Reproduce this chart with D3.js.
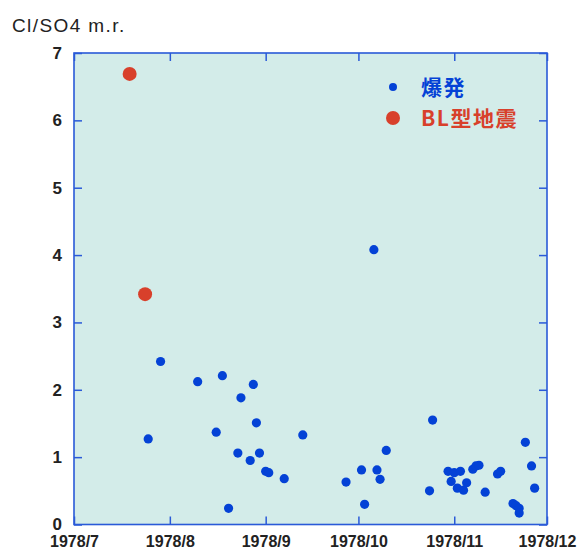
<!DOCTYPE html>
<html>
<head>
<meta charset="utf-8">
<script src="https://cdn.jsdelivr.net/npm/d3@7"></script>
<style>
  body { margin: 0; background: #fff; }
  svg { display: block; }
</style>
</head>
<body>
<div id="container"></div>
<script>
// eruption samples (爆発)
const blastDates = [
    '1978-07-25', '1978-07-29', '1978-08-10', '1978-08-16', '1978-08-18',
    '1978-08-20', '1978-08-23', '1978-08-24', '1978-08-27', '1978-08-28',
    '1978-08-29', '1978-08-30', '1978-09-01', '1978-09-02', '1978-09-07',
    '1978-09-13', '1978-09-27', '1978-10-02', '1978-10-03', '1978-10-06',
    '1978-10-07', '1978-10-08', '1978-10-10', '1978-10-24', '1978-10-25',
    '1978-10-30', '1978-10-31', '1978-11-01', '1978-11-02', '1978-11-03',
    '1978-11-04', '1978-11-05', '1978-11-07', '1978-11-08', '1978-11-09',
    '1978-11-11', '1978-11-15', '1978-11-16', '1978-11-20', '1978-11-21',
    '1978-11-22', '1978-11-22', '1978-11-24', '1978-11-26', '1978-11-27'
];
const blastValues = [
    1.27, 2.42, 2.12, 1.37, 2.21,
    0.24, 1.06, 1.88, 0.95, 2.08,
    1.51, 1.06, 0.79, 0.77, 0.68,
    1.33, 0.63, 0.81, 0.30, 4.08,
    0.81, 0.67, 1.10, 0.50, 1.55,
    0.79, 0.64, 0.77, 0.54, 0.79,
    0.51, 0.62, 0.82, 0.87, 0.88,
    0.48, 0.75, 0.79, 0.31, 0.28,
    0.24, 0.17, 1.22, 0.87, 0.54
];

// BL-type earthquake samples (BL型地震)
const quakeDates = ['1978-07-19', '1978-07-24'];
const quakeValues = [6.69, 3.42];

const monthTicks = ['1978-07-01', '1978-08-01', '1978-09-01', '1978-10-01', '1978-11-01', '1978-12-01'];
const yTicks = [0, 1, 2, 3, 4, 5, 6, 7];
const legendLabels = ['爆発', 'BL型地震'];

const parse = d3.timeParse('%Y-%m-%d');

const blast = blastDates.map((d, i) => ({ date: parse(d), value: blastValues[i] }));
const quake = quakeDates.map((d, i) => ({ date: parse(d), value: quakeValues[i] }));

const margin = { top: 53, right: 34, bottom: 24.5, left: 74 };
const W = 581, H = 549;
const width = W - margin.left - margin.right;
const height = H - margin.top - margin.bottom;

const axisColor = '#2a5ad8';
const blue = '#0442d6';
const red = '#d8402b';
const textColor = '#222';
const font = '"Liberation Sans", Arial, sans-serif';

const root = d3.select('#container')
    .append('svg')
    .attr('width', W)
    .attr('height', H);

const svg = root.append('g')
    .attr('transform', `translate(${margin.left}, ${margin.top})`);

const x = d3.scaleTime()
    .domain([parse(monthTicks[0]), parse(monthTicks[monthTicks.length - 1])])
    .range([0, width]);

const y = d3.scaleLinear()
    .domain([0, 7])
    .range([height, 0]);

svg.append('rect')
    .attr('width', width)
    .attr('height', height)
    .attr('fill', '#d3ece9');

const styleAxis = (g) => {
    g.select('.domain').remove();
    g.selectAll('.tick line').attr('stroke', axisColor).attr('stroke-width', 1.5);
    g.selectAll('.tick text')
        .attr('fill', textColor)
        .attr('font-family', font)
        .attr('font-weight', 'bold')
        .attr('font-size', 16);
};

svg.append('g')
    .attr('transform', `translate(0, ${height})`)
    .call(d3.axisBottom(x)
        .tickValues(monthTicks.map(parse))
        .tickFormat(d3.timeFormat('%Y/%-m'))
        .tickSizeInner(-8)
        .tickSizeOuter(0)
        .tickPadding(11))
    .call(styleAxis);

svg.append('g')
    .call(d3.axisTop(x)
        .tickValues(monthTicks.map(parse))
        .tickFormat('')
        .tickSizeInner(-8)
        .tickSizeOuter(0))
    .call(styleAxis);

svg.append('g')
    .call(d3.axisLeft(y)
        .tickValues(yTicks)
        .tickFormat(d3.format('d'))
        .tickSizeInner(-8)
        .tickSizeOuter(0)
        .tickPadding(12))
    .call(styleAxis)
    .call(g => g.selectAll('.tick text').attr('font-size', 17));

svg.append('g')
    .attr('transform', `translate(${width}, 0)`)
    .call(d3.axisRight(y)
        .tickValues(yTicks)
        .tickFormat('')
        .tickSizeInner(-8)
        .tickSizeOuter(0))
    .call(styleAxis);

svg.append('rect')
    .attr('width', width)
    .attr('height', height)
    .attr('fill', 'none')
    .attr('stroke', axisColor)
    .attr('stroke-width', 1.6);

svg.append('g')
    .selectAll('circle')
    .data(blast).enter()
    .append('circle')
    .attr('cx', d => x(d.date))
    .attr('cy', d => y(d.value))
    .attr('r', 4.6)
    .attr('fill', blue);

svg.append('g')
    .selectAll('circle')
    .data(quake).enter()
    .append('circle')
    .attr('cx', d => x(d.date))
    .attr('cy', d => y(d.value))
    .attr('r', 7)
    .attr('fill', red);

// legend
const legend = root.append('g').attr('transform', 'translate(393, 87)');
legend.append('circle').attr('cx', 0).attr('cy', 0).attr('r', 4).attr('fill', blue);
legend.append('circle').attr('cx', 0).attr('cy', 31).attr('r', 7).attr('fill', red);
legend.selectAll('text')
    .data(legendLabels).enter()
    .append('text')
    .attr('x', 28)
    .attr('y', (d, i) => i * 31 + 8)
    .attr('fill', (d, i) => i === 0 ? blue : red)
    .attr('font-family', '"Noto Sans CJK JP", "Liberation Sans", sans-serif')
    .attr('font-weight', 'bold')
    .attr('font-size', 21)
    .attr('letter-spacing', 1.5)
    .text(d => d);

root.append('text')
    .attr('x', 12)
    .attr('y', 32)
    .attr('fill', textColor)
    .attr('font-family', font)
    .attr('font-size', 19)
    .attr('letter-spacing', 1.4)
    .text('Cl/SO4 m.r.');
</script>
</body>
</html>
